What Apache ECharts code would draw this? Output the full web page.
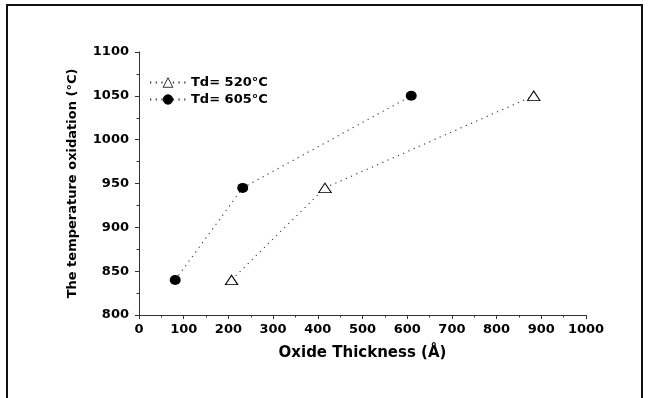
<!DOCTYPE html>
<html>
<head>
<meta charset="utf-8">
<script src="https://cdn.jsdelivr.net/npm/echarts@6/dist/echarts.min.js"></script>
<style>html,body{margin:0;padding:0;background:#fff}#c{width:651px;height:398px}</style>
</head>
<body>
<div id="c"></div>
<script>
var seriesNames = ['Td= 520°C', 'Td= 605°C'];
var thick520 = [207, 416, 883];
var temp520 = [840, 945, 1050];
var thick605 = [81, 232, 609];
var temp605 = [840, 945, 1050];
var xTitle = 'Oxide Thickness (Å)';
var yTitle = 'The temperature oxidation (°C)';

function pairs(xs, ys) { return xs.map(function (x, i) { return [x, ys[i]]; }); }

var chart = echarts.init(document.getElementById('c'), null, {renderer: 'canvas'});
var font = 'DejaVu Sans, sans-serif';
var triPath = 'path://M0,10 L5.5,0 L11,10 Z';
var lineDots = {color: '#333', width: 1.1, type: [1.2, 4.5]};
chart.setOption({
  animation: false,
  backgroundColor: '#fff',
  graphic: [{
    type: 'rect', shape: {x: 7, y: 5, width: 635, height: 400},
    style: {fill: 'none', stroke: '#111', lineWidth: 2}, silent: true
  }],
  grid: {left: 139, right: 65, top: 52, bottom: 83},
  legend: {
    left: 144, top: 71, orient: 'vertical', itemGap: 4, itemWidth: 36, itemHeight: 12,
    itemStyle: {borderWidth: 0.8},
    textStyle: {fontFamily: font, fontWeight: 'bold', fontSize: 13, color: '#000'},
    data: [seriesNames[0], seriesNames[1]]
  },
  xAxis: {
    type: 'value', min: 0, max: 1000, interval: 100,
    name: xTitle, nameLocation: 'middle', nameGap: 31,
    nameTextStyle: {fontFamily: font, fontWeight: 'bold', fontSize: 15, color: '#000'},
    axisLine: {show: true, lineStyle: {color: '#333', width: 1}},
    axisTick: {show: true, length: 4, inside: false, lineStyle: {color: '#333'}},
    minorTick: {show: true, splitNumber: 2, length: 2.5, lineStyle: {color: '#333'}},
    axisLabel: {fontFamily: font, fontWeight: 'bold', fontSize: 13, color: '#000', margin: 8,
      formatter: function (v) { return String(v); }},
    splitLine: {show: false}
  },
  yAxis: {
    type: 'value', min: 800, max: 1100, interval: 50,
    name: yTitle, nameLocation: 'middle', nameGap: 60, nameRotate: 90,
    nameTextStyle: {fontFamily: font, fontWeight: 'bold', fontSize: 13, color: '#000'},
    axisLine: {show: true, lineStyle: {color: '#333', width: 1}},
    axisTick: {show: true, length: 4, inside: false, lineStyle: {color: '#333'}},
    minorTick: {show: true, splitNumber: 2, length: 2.5, lineStyle: {color: '#333'}},
    axisLabel: {fontFamily: font, fontWeight: 'bold', fontSize: 13, color: '#000', margin: 10,
      formatter: function (v) { return String(v); }},
    splitLine: {show: false}
  },
  series: [{
    name: seriesNames[0], type: 'line', data: pairs(thick520, temp520),
    symbol: triPath, symbolSize: [12.5, 9.5],
    itemStyle: {color: '#fff', borderColor: '#000', borderWidth: 1},
    lineStyle: lineDots
  }, {
    name: seriesNames[1], type: 'line', data: pairs(thick605, temp605),
    symbol: 'circle', symbolSize: [11, 10],
    itemStyle: {color: '#000', borderColor: '#000', borderWidth: 0},
    lineStyle: lineDots
  }]
});
</script>
</body>
</html>
